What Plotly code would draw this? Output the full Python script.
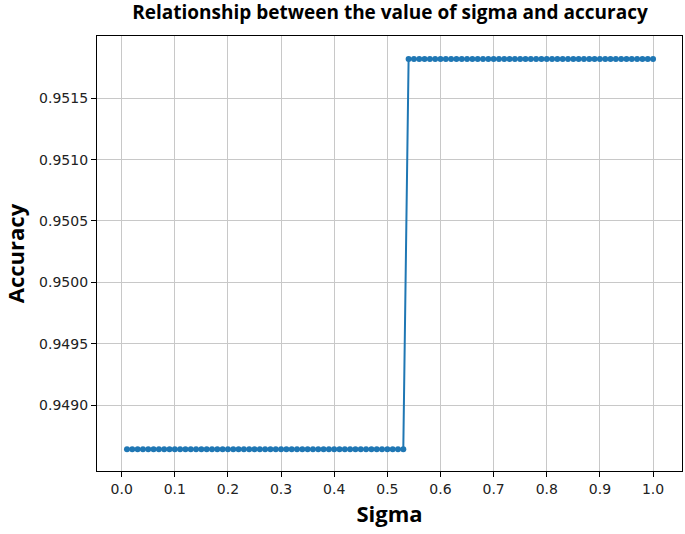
import plotly.graph_objects as go

sigma = [0.01, 0.02, 0.03, 0.04, 0.05, 0.06, 0.07, 0.08, 0.09, 0.10,
         0.11, 0.12, 0.13, 0.14, 0.15, 0.16, 0.17, 0.18, 0.19, 0.20,
         0.21, 0.22, 0.23, 0.24, 0.25, 0.26, 0.27, 0.28, 0.29, 0.30,
         0.31, 0.32, 0.33, 0.34, 0.35, 0.36, 0.37, 0.38, 0.39, 0.40,
         0.41, 0.42, 0.43, 0.44, 0.45, 0.46, 0.47, 0.48, 0.49, 0.50,
         0.51, 0.52, 0.53, 0.54, 0.55, 0.56, 0.57, 0.58, 0.59, 0.60,
         0.61, 0.62, 0.63, 0.64, 0.65, 0.66, 0.67, 0.68, 0.69, 0.70,
         0.71, 0.72, 0.73, 0.74, 0.75, 0.76, 0.77, 0.78, 0.79, 0.80,
         0.81, 0.82, 0.83, 0.84, 0.85, 0.86, 0.87, 0.88, 0.89, 0.90,
         0.91, 0.92, 0.93, 0.94, 0.95, 0.96, 0.97, 0.98, 0.99, 1.00]

low = 0.94864
high = 0.95182
accuracy = [low] * 53 + [high] * 47

x_ticks = [0.0, 0.1, 0.2, 0.3, 0.4, 0.5, 0.6, 0.7, 0.8, 0.9, 1.0]
x_tick_labels = ["0.0", "0.1", "0.2", "0.3", "0.4", "0.5", "0.6", "0.7", "0.8", "0.9", "1.0"]
y_ticks = [0.9490, 0.9495, 0.9500, 0.9505, 0.9510, 0.9515]
y_tick_labels = ["0.9490", "0.9495", "0.9500", "0.9505", "0.9510", "0.9515"]

fig = go.Figure()
fig.add_trace(go.Scatter(
    x=sigma, y=accuracy, mode="lines+markers",
    line=dict(color="#1f77b4", width=2),
    marker=dict(color="#1f77b4", size=6),
    showlegend=False,
))

axis_common = dict(
    showline=True, linecolor="black", linewidth=1.2, mirror=True,
    showgrid=True, gridcolor="#c8c8c8", gridwidth=1.3,
    ticks="outside", ticklen=5, tickwidth=1, tickcolor="black",
    tickfont=dict(family="DejaVu Sans", size=14, color="#222"),
    zeroline=False, automargin=False,
)

fig.update_layout(
    width=685, height=534,
    margin=dict(l=97, r=3, t=36, b=63),
    paper_bgcolor="white", plot_bgcolor="white",
    title=dict(text="<b>Relationship between the value of sigma and accuracy</b>",
               x=0.5693, xanchor="center",
               y=1 - 12 / 534, yanchor="middle",
               font=dict(family="Open Sans", size=19, color="black")),
    xaxis=dict(axis_common, range=[-0.0464, 1.0545], tickvals=x_ticks, ticktext=x_tick_labels,
               title=dict(text="<b>Sigma</b>", font=dict(family="Open Sans", size=22, color="black"),
                          standoff=10)),
    yaxis=dict(axis_common, range=[0.948462, 0.952008], tickvals=y_ticks, ticktext=y_tick_labels,
               title=dict(text="<b>Accuracy</b>", font=dict(family="Open Sans", size=22, color="black"),
                          standoff=14)),
)

fig.write_html("out.html", config={"displayModeBar": False},
               post_script="document.body.style.margin='0';document.body.style.overflow='hidden';")
